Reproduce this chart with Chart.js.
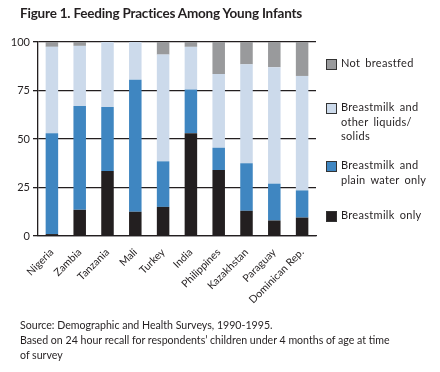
<!DOCTYPE html>
<html>
<head>
<meta charset="utf-8">
<script src="https://cdn.jsdelivr.net/npm/chart.js@4.4.1/dist/chart.umd.min.js"></script>
<style>
  body { margin: 0; background: #fff; font-family: Lato, "Open Sans", sans-serif; color: #231f20; }
  #wrap { position: relative; width: 440px; height: 372px; overflow: hidden; }
  #title { position: absolute; left: 20px; top: 5px; font-size: 13.5px; font-weight: bold; letter-spacing: -0.2px; }
  #notes { position: absolute; left: 20px; top: 318px; font-size: 10.6px; line-height: 15px; }
  .lg { position: absolute; left: 326px; font-size: 11px; line-height: 14.5px; letter-spacing: 0.3px; word-spacing: 2px; }
  .lg i { position: absolute; left: 0; width: 9px; height: 9px; border: 1px solid #333; }
  .lg span { display: block; margin-left: 15px; }
</style>
</head>
<body>
<div id="wrap">
  <canvas id="feedChart" width="440" height="372"></canvas>
  <div id="title">Figure 1. Feeding Practices Among Young Infants</div>
  <div id="legend"></div>
  <div id="notes">Source: Demographic and Health Surveys, 1990-1995.<br>Based on 24 hour recall for respondents’ children under 4 months of age at time<br>of survey</div>
</div>
<script>
const countries = ['Nigeria', 'Zambia', 'Tanzania', 'Mali', 'Turkey', 'India', 'Philippines', 'Kazakhstan', 'Paraguay', 'Dominican Rep.'];
const breastmilkOnly = [1, 13.5, 33.5, 12.5, 15, 53, 34, 13, 8, 9.5];
const plainWater = [52, 53.5, 33, 68, 23.5, 22.5, 11.5, 24.5, 19, 14];
const otherLiquids = [44.5, 31, 33.5, 19.5, 55, 22, 38, 51, 60, 59];
const notBreastfed = [2.5, 2, 0, 0, 6.5, 2.5, 16.5, 11.5, 13, 17.5];
const yTicks = [0, 25, 50, 75, 100];

const series = [
  { label: 'Breastmilk only', lines: ['Breastmilk only'], data: breastmilkOnly, color: '#231f20', top: 208 },
  { label: 'Breastmilk and plain water only', lines: ['Breastmilk and', 'plain water only'], data: plainWater, color: '#3f86c1', top: 158 },
  { label: 'Breastmilk and other liquids/solids', lines: ['Breastmilk and', 'other liquids/', 'solids'], data: otherLiquids, color: '#ccdaeb', top: 100 },
  { label: 'Not breastfed', lines: ['Not breastfed'], data: notBreastfed, color: '#999a9c', top: 56 }
];

// html legend, listed top to bottom like the original
const legend = document.getElementById('legend');
series.slice().reverse().forEach(function(s) {
  const div = document.createElement('div');
  div.className = 'lg';
  div.style.top = s.top + 'px';
  div.innerHTML = '<i style="background:' + s.color + ';top:' + 3 + 'px"></i>' +
    s.lines.map(function(t) { return '<span>' + t + '</span>'; }).join('');
  legend.appendChild(div);
});

const ctx = document.getElementById('feedChart').getContext('2d');
new Chart(ctx, {
  type: 'bar',
  data: {
    labels: countries,
    datasets: series.map(function(s) {
      return {
        label: s.label,
        data: s.data,
        backgroundColor: s.color,
        borderWidth: 0,
        barPercentage: 0.45,
        categoryPercentage: 1
      };
    })
  },
  options: {
    responsive: false,
    animation: false,
    layout: { padding: { top: 42, right: 124, bottom: 0, left: 0 } },
    plugins: { legend: { display: false }, tooltip: { enabled: false } },
    scales: {
      x: {
        stacked: true,
        afterFit: function(s) { s.height = 136; },
        grid: { display: false },
        border: { color: '#231f20', width: 1.3 },
        ticks: {
          autoSkip: false, minRotation: 45, maxRotation: 45, padding: 2,
          color: '#231f20', font: { family: 'Lato', size: 10.5 }
        }
      },
      y: {
        stacked: true,
        min: 0, max: 100,
        afterFit: function(s) { s.width = 38; },
        afterBuildTicks: function(s) { s.ticks = yTicks.map(function(v) { return { value: v }; }); },
        grid: { color: '#231f20', lineWidth: 1.3, tickLength: 5 },
        border: { color: '#231f20', width: 1.3 },
        ticks: { padding: 3, color: '#231f20', font: { family: 'Lato', size: 11 } }
      }
    }
  }
});
</script>
</body>
</html>
